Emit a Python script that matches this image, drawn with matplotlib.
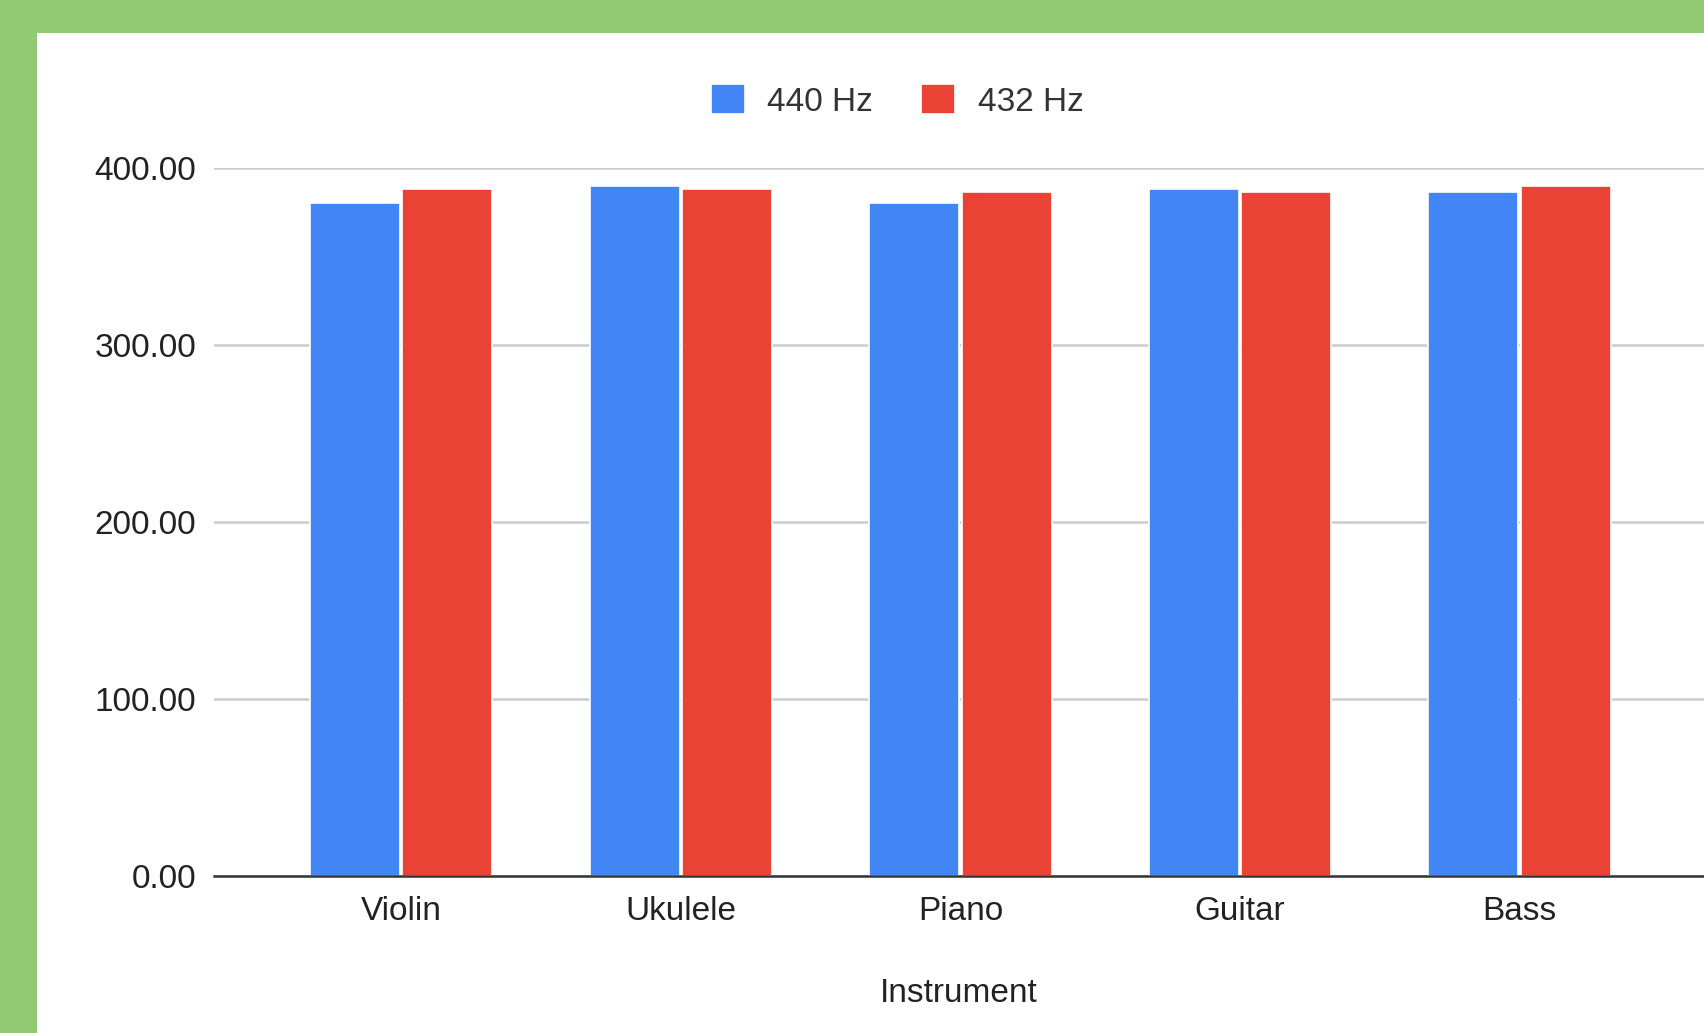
import numpy as np
import matplotlib.pyplot as plt
from matplotlib.patches import Rectangle

instruments = ["Violin", "Ukulele", "Piano", "Guitar", "Bass"]
hz_440 = [380.1, 389.6, 380.1, 387.9, 386.3]
hz_432 = [387.9, 387.9, 386.3, 386.3, 389.6]
y_ticks = [0, 100, 200, 300, 400]

plt.rcParams['font.family'] = ['Liberation Sans', 'DejaVu Sans']

fig = plt.figure(figsize=(17.04, 10.33), dpi=100, facecolor="#93c973")
# white card over the green background
fig.patches.append(Rectangle((37 / 1704, 0), 1, 1 - 33 / 1033,
                             transform=fig.transFigure, facecolor="white",
                             edgecolor="none", zorder=-1))

ax = fig.add_axes([214 / 1704, 1 - 875.7 / 1033, 1 - 214 / 1704, (875.7 - 167.5) / 1033])
ax.set_facecolor("none")
ax.set_zorder(2)

x = np.arange(len(instruments))
w = 0.322
ax.bar(x - w / 2 - 0.004, hz_440, w, color="#4285f4", edgecolor="white", linewidth=1.2,
       label="440 Hz", zorder=3)
ax.bar(x + w / 2 + 0.004, hz_432, w, color="#ea4335", edgecolor="white", linewidth=1.2,
       label="432 Hz", zorder=3)

ax.set_xlim(-0.67, 4.66)
ax.set_ylim(0, 400)
ax.set_yticks(y_ticks)
ax.set_yticklabels([f"{v:.2f}" for v in y_ticks])
ax.set_xticks(x)
ax.set_xticklabels(instruments)
ax.tick_params(axis="y", length=0, pad=13, labelsize=24, labelcolor="#222222")
ax.tick_params(axis="x", length=0, pad=14.5, labelsize=24, labelcolor="#222222")
ax.yaxis.grid(True, color="#cccccc", linewidth=1.8, zorder=0)
ax.set_axisbelow(True)
for s in ["top", "right", "left"]:
    ax.spines[s].set_visible(False)
ax.spines["bottom"].set_color("#333333")
ax.spines["bottom"].set_linewidth(1.8)
ax.spines["bottom"].set_zorder(4)

ax.set_xlabel("Instrument", fontsize=24, color="#222222", labelpad=37)

leg = fig.legend(loc="center", bbox_to_anchor=(897 / 1704, 1 - 101 / 1033), ncol=2,
                 frameon=False, fontsize=24, handlelength=1.02, handleheight=1.0,
                 handletextpad=0.68, columnspacing=1.43, labelcolor="#333333")
leg.set_zorder(3)

fig.savefig("out.png", dpi=100, facecolor=fig.get_facecolor())
